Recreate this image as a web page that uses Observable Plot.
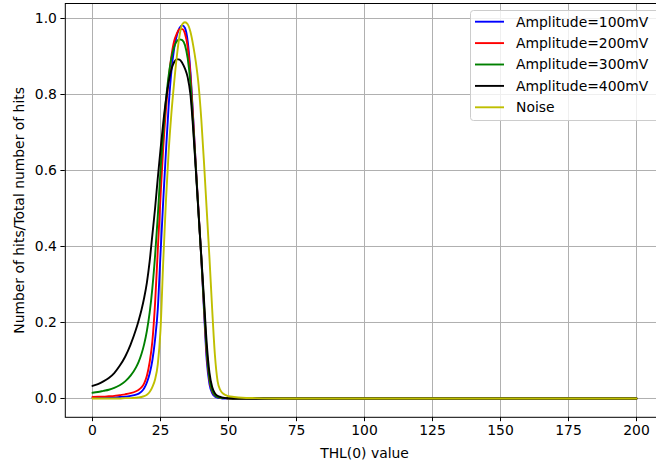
<!DOCTYPE html>
<html><head><meta charset="utf-8">
<script src="https://cdn.jsdelivr.net/npm/d3@7"></script>
<script src="https://cdn.jsdelivr.net/npm/@observablehq/plot@0.6"></script>
<style>
body{margin:0;background:#fff;}
#chart{width:656px;height:463px;overflow:hidden;}
</style>
</head><body><div id="chart"></div>
<script>
// THL(0) values (x)
const thl = [0,2,4,6,8,10,12,14,16,17,18,19,20,21,22,23,24,25,26,27,28,29,30,31,32,33,34,35,36,37,38,39,40,41,42,43,44,45,46,47,48,49,50,52,55,60,70,80,90,100,110,120,130,140,150,160,170,180,190,200];

const amp100 = [0.002,0.002,0.002,0.003,0.003,0.004,0.005,0.007,0.010,0.013,0.018,0.027,0.042,0.065,0.100,0.155,0.235,0.380,0.520,0.650,0.770,0.860,0.920,0.955,0.975,0.982,0.975,0.940,0.860,0.740,0.610,0.490,0.370,0.230,0.100,0.038,0.014,0.005,0.002,0.001,0,0,0,0,0,0,0,0,0,0,0,0,0,0,0,0,0,0,0,0];

const amp200 = [0.004,0.005,0.005,0.006,0.007,0.009,0.011,0.014,0.019,0.023,0.029,0.040,0.060,0.095,0.150,0.250,0.390,0.530,0.660,0.760,0.840,0.900,0.940,0.960,0.972,0.972,0.960,0.925,0.850,0.735,0.610,0.490,0.370,0.240,0.115,0.048,0.019,0.008,0.004,0.002,0.001,0.001,0,0,0,0,0,0,0,0,0,0,0,0,0,0,0,0,0,0];

const amp300 = [0.015,0.017,0.020,0.023,0.028,0.035,0.045,0.060,0.082,0.097,0.117,0.143,0.178,0.225,0.290,0.375,0.480,0.600,0.700,0.785,0.850,0.895,0.925,0.940,0.945,0.943,0.930,0.895,0.830,0.720,0.605,0.485,0.370,0.245,0.125,0.052,0.021,0.009,0.004,0.002,0.001,0.001,0,0,0,0,0,0,0,0,0,0,0,0,0,0,0,0,0,0];

const amp400 = [0.033,0.038,0.045,0.054,0.067,0.086,0.110,0.142,0.182,0.206,0.233,0.265,0.305,0.360,0.430,0.500,0.580,0.655,0.725,0.785,0.833,0.866,0.885,0.893,0.892,0.883,0.868,0.845,0.800,0.710,0.600,0.485,0.375,0.260,0.145,0.068,0.030,0.014,0.007,0.004,0.002,0.001,0.001,0,0,0,0,0,0,0,0,0,0,0,0,0,0,0,0,0];

const noise = [0,0,0,0,0,0,0.001,0.001,0.002,0.003,0.004,0.006,0.010,0.017,0.030,0.050,0.090,0.180,0.360,0.520,0.650,0.750,0.830,0.900,0.955,0.985,0.990,0.985,0.965,0.930,0.885,0.825,0.735,0.620,0.495,0.370,0.235,0.115,0.045,0.022,0.013,0.009,0.006,0.004,0.002,0.001,0,0,0,0,0,0,0,0,0,0,0,0,0,0];

const seriesNames = ["Amplitude=100mV","Amplitude=200mV","Amplitude=300mV","Amplitude=400mV","Noise"];
const seriesColors = ["#0000ff","#ff0000","#008000","#000000","#bfbf00"];
const seriesValues = [amp100, amp200, amp300, amp400, noise];

const xTicks = [0,25,50,75,100,125,150,175,200];
const yTicks = [0,0.2,0.4,0.6,0.8,1.0];

const FS = 13.9;
const rows = seriesNames.flatMap((name,k) => thl.map((x,i) => ({x, y: seriesValues[k][i], name})));

const plot = Plot.plot({
  width: 656, height: 463,
  marginLeft: 64.8, marginRight: -7.2, marginTop: 3, marginBottom: 46.2,
  style: {fontFamily: "DejaVu Sans", fontSize: FS + "px", color: "#000", background: "#fff", overflow: "hidden"},
  x: {domain: [-10, 210]},
  y: {domain: [-0.0495, 1.0395]},
  marks: [
    Plot.gridX(xTicks, {stroke: "#b0b0b0", strokeOpacity: 1, strokeWidth: 1}),
    Plot.gridY(yTicks, {stroke: "#b0b0b0", strokeOpacity: 1, strokeWidth: 1}),
    ...seriesNames.map((name,k) => Plot.line(rows.filter(d => d.name === name), {x: "x", y: "y", stroke: seriesColors[k], strokeWidth: 1.9, curve: "monotone-x"})),
    Plot.frame({stroke: "#000", strokeWidth: 1}),
    Plot.axisX(xTicks, {tickSize: 4.4, tickPadding: 3, label: null, fontSize: FS}),
    Plot.axisY(yTicks, {tickSize: 4.4, tickPadding: 4, tickFormat: d3.format(".1f"), label: null, fontSize: FS}),
    Plot.text(["THL(0) value"], {frameAnchor: "bottom", dy: 36, fontSize: FS, lineAnchor: "middle", textAnchor: "middle"}),
    Plot.text(["Number of hits/Total number of hits"], {frameAnchor: "left", dx: -46, rotate: -90, fontSize: FS, lineAnchor: "middle", textAnchor: "middle"})
  ]
});

const svg = d3.select(plot);
const lg = svg.append("g").attr("font-family", "DejaVu Sans").attr("font-size", FS).attr("text-anchor", "start");
lg.append("rect").attr("x", 470.5).attr("y", 10.5).attr("width", 200).attr("height", 110)
  .attr("rx", 3).attr("fill", "#fff").attr("fill-opacity", 0.8).attr("stroke", "#cccccc").attr("stroke-width", 1);
seriesNames.forEach((name, k) => {
  const yy = 21.7 + k * 21.4;
  lg.append("line").attr("x1", 475).attr("x2", 504).attr("y1", yy).attr("y2", yy)
    .attr("stroke", seriesColors[k]).attr("stroke-width", 1.9);
  lg.append("text").attr("x", 516).attr("y", yy).attr("dy", "0.35em").attr("fill", "#000").attr("text-anchor", "start").text(name);
});

document.getElementById("chart").appendChild(plot);
</script>
</body></html>
